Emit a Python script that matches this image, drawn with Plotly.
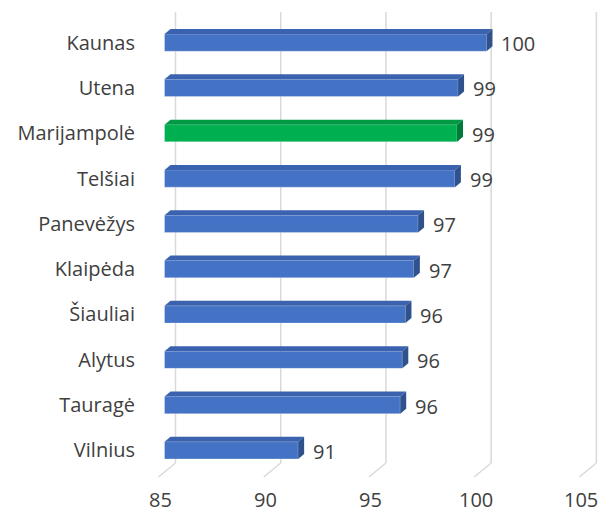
import plotly.graph_objects as go

# Data (top-to-bottom as shown in the chart)
regions = ["Kaunas", "Utena", "Marijampolė", "Telšiai", "Panevėžys",
           "Klaipėda", "Šiauliai", "Alytus", "Tauragė", "Vilnius"]
values = [100.3, 98.95, 98.9, 98.8, 97.05, 96.85, 96.45, 96.3, 96.2, 91.35]
highlight = "Marijampolė"
tick_vals = [85, 90, 95, 100, 105]

AXIS_MIN = 85
FONT = "Open Sans"
TEXT_COL = "#404040"

# styles
BLUE = ("#4472C4", "#3A62AE", "#2F528F")   # front, top, side
GREEN = ("#00B050", "#009A45", "#007A38")
BAR_W = 0.38
DX = 0.285   # depth offset in x data units
DY = 0.11    # depth offset in category units

# plot bottom-to-top
cats = regions[::-1]
vals = values[::-1]
front_cols = [GREEN[0] if c == highlight else BLUE[0] for c in cats]

fig = go.Figure()
fig.add_trace(go.Bar(
    y=cats, x=[v - AXIS_MIN for v in vals], base=AXIS_MIN, orientation="h",
    width=BAR_W, marker=dict(color=front_cols, line=dict(color="rgba(255,255,255,0.35)", width=0.8)),
    hoverinfo="skip", showlegend=False,
))

shapes = []
# 3D gridlines (back wall + floor)
for t in tick_vals:
    line = dict(color="#D9D9D9", width=1.5)
    shapes.append(dict(type="line", xref="x", xsizemode="pixel", xanchor=t, x0=11, x1=11,
                       yref="paper", ysizemode="pixel", yanchor=0, y0=10, y1=461,
                       line=line, layer="below"))
    shapes.append(dict(type="line", xref="x", xsizemode="pixel", xanchor=t, x0=11, x1=-6,
                       yref="paper", ysizemode="pixel", yanchor=0, y0=10, y1=-4,
                       line=line, layer="below"))

# 3D faces of bars
for i, (c, v) in enumerate(zip(cats, vals)):
    cols = GREEN if c == highlight else BLUE
    yt = i + BAR_W / 2
    yb = i - BAR_W / 2
    top = (f"M {AXIS_MIN},{yt} L {v},{yt} L {v + DX},{yt + DY} "
           f"L {AXIS_MIN + DX},{yt + DY} Z")
    side = (f"M {v},{yb} L {v},{yt} L {v + DX},{yt + DY} L {v + DX},{yb + DY} Z")
    shapes.append(dict(type="path", xref="x", yref="y", path=top,
                       fillcolor=cols[1], line=dict(width=0), layer="above"))
    shapes.append(dict(type="path", xref="x", yref="y", path=side,
                       fillcolor=cols[2], line=dict(width=0), layer="above"))

annotations = []
for i, v in enumerate(vals):
    annotations.append(dict(x=v, y=i, xref="x", yref="y", text=f"{v:.0f}",
                            showarrow=False, xanchor="left", yanchor="middle",
                            xshift=13, yshift=-1,
                            font=dict(family=FONT, size=20, color=TEXT_COL)))
# x tick labels on the front floor plane
for t in tick_vals:
    annotations.append(dict(x=t, y=0, xref="x", yref="paper", text=str(t),
                            showarrow=False, xanchor="center", yanchor="bottom",
                            xshift=-4, yshift=-42,
                            font=dict(family=FONT, size=20, color=TEXT_COL)))

fig.update_layout(
    width=599, height=516,
    margin=dict(l=154, r=1, t=20, b=43),
    paper_bgcolor="white", plot_bgcolor="white",
    shapes=shapes, annotations=annotations,
    xaxis=dict(range=[84.5, 105.6], tickvals=tick_vals, showgrid=False, zeroline=False,
               showline=False, showticklabels=False, automargin=False),
    yaxis=dict(type="category", categoryorder="array", categoryarray=cats,
               range=[-0.5, 9.5], showgrid=False, zeroline=False, showline=False,
               ticks="outside", ticklen=14, tickcolor="rgba(0,0,0,0)", automargin=False,
               tickfont=dict(family=FONT, size=20, color=TEXT_COL)),
    font=dict(family=FONT, color=TEXT_COL),
)

# remove the default page margin so the figure fills the window exactly
fig.write_html("out.html",
               config={"displayModeBar": False},
               post_script="document.body.style.margin='0';"
                           "document.documentElement.style.overflow='hidden';")
